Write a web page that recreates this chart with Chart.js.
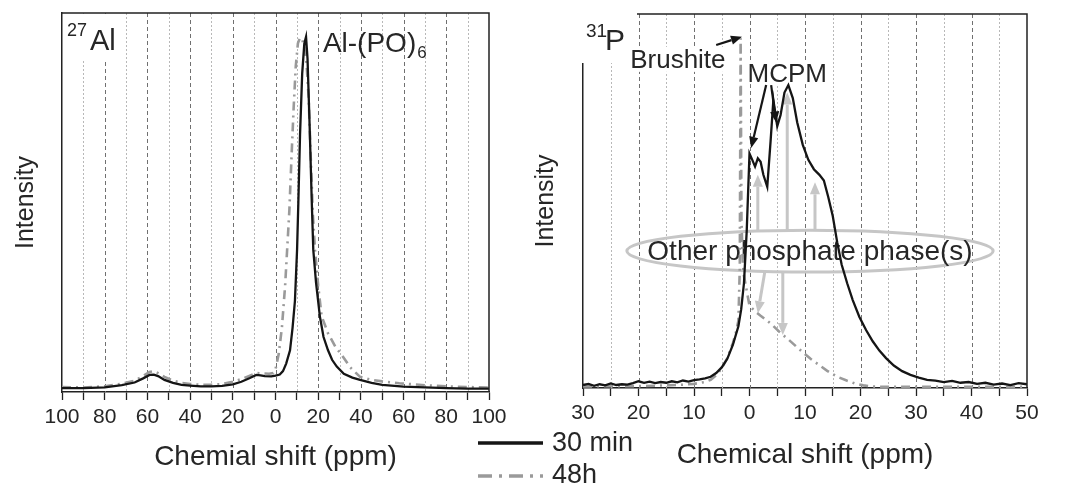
<!DOCTYPE html>
<html lang="en">
<head>
<meta charset="UTF-8">
<title>27Al / 31P NMR</title>
<script src="https://cdn.jsdelivr.net/npm/chart.js"></script>
<style>
  body { margin: 0; background: #fff; }
  .wrap { position: relative; width: 1067px; height: 485px; overflow: hidden; }
  #alBox { position: absolute; left: 0; top: 0; }
  #pBox { position: absolute; left: 470px; top: 0; }
</style>
</head>
<body>
<div class="wrap">
  <div id="alBox"><canvas id="alChart" width="540" height="485"></canvas></div>
  <div id="pBox"><canvas id="pChart" width="597" height="485"></canvas></div>
</div>
<script>
// ---- 27Al spectra (chemical shift in ppm, intensity in %) ----
var alShift30 = [100, 90, 80, 72, 66, 62, 59, 57, 55, 52, 48, 44, 40, 35, 30, 25, 20, 16, 12, 9, 7, 5, 2, 0, -2, -3.5, -5, -6.8, -8, -9.1, -10.1, -10.7, -11.5, -12.5, -13.5, -14.3, -15, -16, -17, -17.7, -19, -20.8, -22.5, -24.6, -26.5, -28.7, -32, -36, -39.6, -45, -50, -60, -70, -80, -90, -100];
var alInt30 = [1.0, 1.0, 1.2, 1.8, 2.5, 3.6, 4.5, 4.6, 4.2, 3.2, 2.4, 1.9, 1.7, 1.5, 1.5, 1.6, 2.0, 2.7, 3.7, 4.5, 4.4, 4.2, 4.1, 4.3, 4.6, 5.5, 7.5, 11, 17, 24, 37.5, 50, 68, 84, 92, 93.7, 88, 70, 50, 37.5, 28.8, 19.9, 14.5, 11, 8.5, 6.7, 4.8, 3.8, 3.2, 2.4, 1.9, 1.4, 1.2, 1.0, 0.9, 0.9];
var alShift48 = [100, 90, 80, 72, 66, 62, 59, 57, 55, 52, 48, 44, 40, 35, 30, 25, 20, 16, 12, 9, 6, 3, 1, 0, -1.5, -3, -4.5, -5.5, -6.5, -7.5, -8.5, -9.5, -10.5, -11.5, -12.5, -13.5, -14.5, -15.5, -16.5, -17.5, -18.5, -20, -21.6, -24.6, -28, -31.6, -35, -39.6, -45, -50, -58, -70, -80, -90, -100];
var alInt48 = [1.3, 1.2, 1.5, 2.2, 3.0, 4.2, 5.3, 5.5, 5.0, 4.0, 3.0, 2.4, 2.1, 1.9, 1.9, 2.1, 2.7, 3.4, 4.3, 5.0, 4.9, 4.8, 5.0, 6, 10, 17, 28, 38, 48, 62, 75, 86, 92, 93.5, 93, 91, 87, 78, 62, 47, 37.5, 28, 20, 15.5, 12, 9.3, 6.5, 4, 3.2, 2.8, 2.3, 1.8, 1.5, 1.3, 1.2];

// ---- 31P spectra ----
var pShift30 = [30, 29, 28, 27, 26, 25, 24, 23, 22, 21, 20, 19, 18, 17, 16, 15, 14, 13, 12, 11, 10, 9, 8, 7, 6, 5, 4, 3, 2, 1.5, 1, 0.5, 0, -0.5, -1, -1.5, -2, -2.5, -3.2, -3.8, -4.3, -5, -5.6, -6.3, -7, -7.8, -8.6, -9.6, -10.6, -11.6, -12.6, -13.4, -14.2, -15, -15.8, -16.6, -17.6, -18.6, -19.8, -21, -22.2, -23.4, -24.6, -26, -27.5, -29, -30.5, -32, -33.5, -35, -36.5, -38, -39.5, -41, -42.5, -44, -45.5, -47, -48.5, -50];
var pInt30 = [0.8, 1.1, 0.6, 1.0, 0.7, 1.2, 0.8, 1.0, 0.9, 1.3, 1.8, 1.4, 1.7, 1.3, 1.6, 1.4, 1.8, 1.5, 2.0, 1.7, 2.1, 2.3, 2.6, 3.0, 4.0, 5.5, 7.8, 11.5, 16.5, 21, 28, 42, 62.7, 61, 59.2, 61.4, 60.5, 57, 53.8, 66, 77, 70, 73, 79, 81, 77.5, 71, 65, 61, 58.5, 57, 55.5, 51, 46, 39, 33, 28, 23.5, 19, 15.5, 12.5, 10, 8, 6, 4.5, 3.5, 2.8, 2.2, 2.0, 1.6, 1.9, 1.4, 1.6, 1.1, 1.4, 0.9, 1.2, 0.8, 1.3, 1.0];
var pShift48 = [30, 25, 20, 15, 12, 10, 8, 7, 6, 5, 4, 3, 2.5, 2, 1.75, 1.6, 1.45, 1.2, 1, 0.5, 0, -1, -2, -3, -4, -5.6, -7, -8.5, -9.8, -11, -12.5, -14, -15.8, -17.5, -19, -20.5, -22, -25, -30, -40, -50];
var pInt48 = [0.4, 0.5, 0.5, 0.7, 0.9, 1.1, 1.6, 2.2, 3.4, 5.3, 8, 12, 14.5, 18, 32, 93.5, 45, 33, 30, 26, 22, 20.5, 19.3, 18.2, 17, 14.7, 13, 11, 9.3, 7.8, 6.2, 4.6, 3, 2, 1.2, 0.7, 0.4, 0.3, 0.3, 0.3, 0.3];

var seriesNames = ['30 min', '48h'];

var FONT = "'Liberation Sans', Arial, Helvetica, sans-serif";
var TXT = '#262626';
var BLACK = '#151515';
var GREY = '#9a9a9a';
var LIGHT = '#c6c6c6';

function series(xs, ys) {
    return xs.map(function (x, i) { return { x: x, y: ys[i] }; });
}

function gridLines(chart, major) {
    var ctx = chart.ctx, a = chart.chartArea, xs = chart.scales.x;
    ctx.save();
    ctx.lineWidth = 1;
    xs.ticks.forEach(function (t) {
        var px = Math.round(xs.getPixelForValue(t.value)) + 0.5;
        if (px < a.left + 2 || px > a.right - 2) return;
        var isMajor = Math.abs(t.value) % major === 0;
        ctx.strokeStyle = isMajor ? '#707070' : '#b8b8b8';
        ctx.setLineDash(isMajor ? [4, 3] : [2, 2]);
        ctx.beginPath();
        ctx.moveTo(px, a.top);
        ctx.lineTo(px, a.bottom);
        ctx.stroke();
    });
    ctx.restore();
}

function frame(chart, fromX) {
    var ctx = chart.ctx, a = chart.chartArea;
    ctx.save();
    ctx.strokeStyle = '#222';
    ctx.lineWidth = 1.5;
    ctx.beginPath();
    ctx.moveTo(fromX, a.top);
    ctx.lineTo(a.right, a.top);
    ctx.lineTo(a.right, a.bottom);
    ctx.stroke();
    ctx.restore();
}

function arrow(ctx, x1, y1, x2, y2, color, w, head) {
    var ang = Math.atan2(y2 - y1, x2 - x1);
    var bx = x2 - head * Math.cos(ang), by = y2 - head * Math.sin(ang);
    ctx.save();
    ctx.strokeStyle = color;
    ctx.fillStyle = color;
    ctx.lineWidth = w;
    ctx.beginPath();
    ctx.moveTo(x1, y1);
    ctx.lineTo(bx, by);
    ctx.stroke();
    ctx.beginPath();
    ctx.moveTo(x2, y2);
    ctx.lineTo(bx + head * 0.42 * Math.sin(ang), by - head * 0.42 * Math.cos(ang));
    ctx.lineTo(bx - head * 0.42 * Math.sin(ang), by + head * 0.42 * Math.cos(ang));
    ctx.closePath();
    ctx.fill();
    ctx.restore();
}

function makeOptions(min, max, step, major, padding, yWidth, xHeight, yTitlePad, xTitlePad, xTitle) {
    return {
        responsive: false,
        animation: false,
        events: [],
        layout: { padding: padding },
        plugins: { legend: { display: false }, tooltip: { enabled: false } },
        elements: { point: { radius: 0 }, line: { tension: 0 } },
        scales: {
            x: {
                type: 'linear',
                min: min,
                max: max,
                reverse: true,
                afterFit: function (s) { s.height = xHeight; },
                grid: { drawOnChartArea: false, drawTicks: true, tickLength: 8, tickColor: '#222', tickWidth: 1.3 },
                border: { display: true, color: '#222', width: 1.5 },
                ticks: {
                    stepSize: step,
                    autoSkip: false,
                    maxRotation: 0,
                    padding: 5,
                    color: TXT,
                    font: { family: FONT, size: 21 },
                    callback: function (v) { return Math.abs(v) % major === 0 ? String(Math.abs(v)) : ''; }
                },
                title: {
                    display: true,
                    text: xTitle,
                    color: TXT,
                    font: { family: FONT, size: 28 },
                    padding: { top: 0, bottom: xTitlePad }
                }
            },
            y: {
                min: 0,
                max: 100,
                afterFit: function (s) { s.width = yWidth; },
                grid: { display: false },
                border: { display: true, color: '#222', width: 1.5 },
                ticks: { display: false },
                title: {
                    display: true,
                    text: 'Intensity',
                    color: TXT,
                    font: { family: FONT, size: 25 },
                    padding: { top: yTitlePad, bottom: 0 }
                }
            }
        }
    };
}

function datasets(xs30, ys30, xs48, ys48) {
    return [
        { label: seriesNames[0], data: series(xs30, ys30), borderColor: BLACK, borderWidth: 2.3, fill: false },
        { label: seriesNames[1], data: series(xs48, ys48), borderColor: GREY, borderWidth: 2.6, borderDash: [9, 5, 2, 5], fill: false }
    ];
}

// ---- left panel ----
var alDecor = {
    id: 'alDecor',
    beforeDatasetsDraw: function (chart) {
        gridLines(chart, 20);
        var ctx = chart.ctx, a = chart.chartArea;
        ctx.fillStyle = '#fff';
        ctx.fillRect(a.left + 1, a.top + 1, 60, 46);
    },
    afterDraw: function (chart) {
        var ctx = chart.ctx, a = chart.chartArea, x = chart.scales.x, y = chart.scales.y;
        frame(chart, a.left);
        ctx.save();
        ctx.fillStyle = TXT;
        ctx.textAlign = 'left';
        ctx.textBaseline = 'alphabetic';
        ctx.font = '18px ' + FONT;
        ctx.fillText('27', a.left + 5, a.top + 23);
        ctx.font = '29px ' + FONT;
        ctx.fillText('Al', a.left + 28, a.top + 37);
        var px = x.getPixelForValue(-22.2), py = y.getPixelForValue(89.7);
        ctx.font = '28px ' + FONT;
        ctx.fillText('Al-(PO)', px, py);
        var w = ctx.measureText('Al-(PO)').width;
        ctx.font = '17px ' + FONT;
        ctx.fillText('6', px + w + 1, py + 6);
        ctx.restore();
    }
};

new Chart(document.getElementById('alChart').getContext('2d'), {
    type: 'line',
    data: { datasets: datasets(alShift30, alInt30, alShift48, alInt48) },
    options: makeOptions(-100, 100, 10, 20, { left: 0, right: 51, top: 13, bottom: 0 }, 62, 93, 11, 11, 'Chemial shift (ppm)'),
    plugins: [alDecor]
});

// ---- right panel ----
var pDecor = {
    id: 'pDecor',
    beforeDatasetsDraw: function (chart) {
        gridLines(chart, 10);
        var ctx = chart.ctx, a = chart.chartArea, x = chart.scales.x, y = chart.scales.y;
        // corner box behind the 31P label
        ctx.save();
        ctx.fillStyle = '#fff';
        ctx.fillRect(a.left - 8, 0, 62, a.top + 49);

        ctx.textAlign = 'left';
        ctx.textBaseline = 'alphabetic';
        ctx.font = '26px ' + FONT;
        var bx = x.getPixelForValue(21.5), by = y.getPixelForValue(85.6);
        var bw = ctx.measureText('Brushite').width;
        ctx.fillStyle = '#fff';
        ctx.fillRect(bx - 2, by - 21, bw + 4, 25);
        ctx.fillStyle = TXT;
        ctx.fillText('Brushite', bx, by);

        ctx.textAlign = 'center';
        ctx.font = '26px ' + FONT;
        var mx = x.getPixelForValue(-6.8), my = y.getPixelForValue(81.8);
        var mw = ctx.measureText('MCPM').width;
        ctx.fillStyle = '#fff';
        ctx.fillRect(mx - mw / 2 - 2, my - 21, mw + 4, 23);
        ctx.fillStyle = TXT;
        ctx.fillText('MCPM', mx, my);

        // ellipse round the other phases
        var cx = x.getPixelForValue(-10.9), cy = y.getPixelForValue(36.6);
        var rx = Math.abs(x.getPixelForValue(-10.9 + 33) - cx);
        var ry = Math.abs(y.getPixelForValue(36.6 + 5.6) - cy);
        ctx.strokeStyle = LIGHT;
        ctx.lineWidth = 3;
        ctx.beginPath();
        ctx.ellipse(cx, cy, rx, ry, 0, 0, Math.PI * 2);
        ctx.stroke();
        ctx.fillStyle = TXT;
        ctx.textBaseline = 'middle';
        ctx.font = '28px ' + FONT;
        ctx.fillText('Other phosphate phase(s)', cx, cy + 1);
        ctx.restore();

        var ups = [[-1.5, 57], [-6.8, 79], [-11.8, 55]];
        ups.forEach(function (u) {
            arrow(ctx, x.getPixelForValue(u[0]), y.getPixelForValue(42.2), x.getPixelForValue(u[0]), y.getPixelForValue(u[1]), LIGHT, 3, 12);
        });
        arrow(ctx, x.getPixelForValue(-2.8), y.getPixelForValue(31.4), x.getPixelForValue(-1.5), y.getPixelForValue(20), LIGHT, 3, 12);
        arrow(ctx, x.getPixelForValue(-6), y.getPixelForValue(31), x.getPixelForValue(-6), y.getPixelForValue(14.2), LIGHT, 3, 12);
    },
    afterDraw: function (chart) {
        var ctx = chart.ctx, a = chart.chartArea, x = chart.scales.x, y = chart.scales.y;
        frame(chart, a.left + 54);
        ctx.save();
        ctx.fillStyle = TXT;
        ctx.textAlign = 'left';
        ctx.textBaseline = 'alphabetic';
        ctx.font = '19px ' + FONT;
        ctx.fillText('31', a.left + 3, 37);
        ctx.font = '30px ' + FONT;
        ctx.fillText('P', a.left + 22, 50);
        ctx.restore();

        arrow(ctx, x.getPixelForValue(6.0), y.getPixelForValue(91.7), x.getPixelForValue(1.35), y.getPixelForValue(93.9), BLACK, 2.2, 11);
        arrow(ctx, x.getPixelForValue(-3.0), y.getPixelForValue(81), x.getPixelForValue(-0.3), y.getPixelForValue(64.2), BLACK, 2.2, 11);
        arrow(ctx, x.getPixelForValue(-3.9), y.getPixelForValue(81), x.getPixelForValue(-4.8), y.getPixelForValue(71), BLACK, 2.2, 11);

        // legend
        ctx.save();
        ctx.lineWidth = 3.5;
        ctx.strokeStyle = BLACK;
        ctx.beginPath();
        ctx.moveTo(8, 443);
        ctx.lineTo(73, 443);
        ctx.stroke();
        ctx.strokeStyle = GREY;
        ctx.setLineDash([14, 7, 3, 7]);
        ctx.beginPath();
        ctx.moveTo(8, 476);
        ctx.lineTo(73, 476);
        ctx.stroke();
        ctx.fillStyle = TXT;
        ctx.textAlign = 'left';
        ctx.textBaseline = 'middle';
        ctx.font = '27px ' + FONT;
        ctx.fillText(seriesNames[0], 82, 444);
        ctx.fillText(seriesNames[1], 82, 476);
        ctx.restore();
    }
};

new Chart(document.getElementById('pChart').getContext('2d'), {
    type: 'line',
    data: { datasets: datasets(pShift30, pInt30, pShift48, pInt48) },
    options: makeOptions(-50, 30, 5, 10, { left: 60, right: 40, top: 14, bottom: 0 }, 53, 97, 1, 13, 'Chemical shift (ppm)'),
    plugins: [pDecor]
});
</script>
</body>
</html>
